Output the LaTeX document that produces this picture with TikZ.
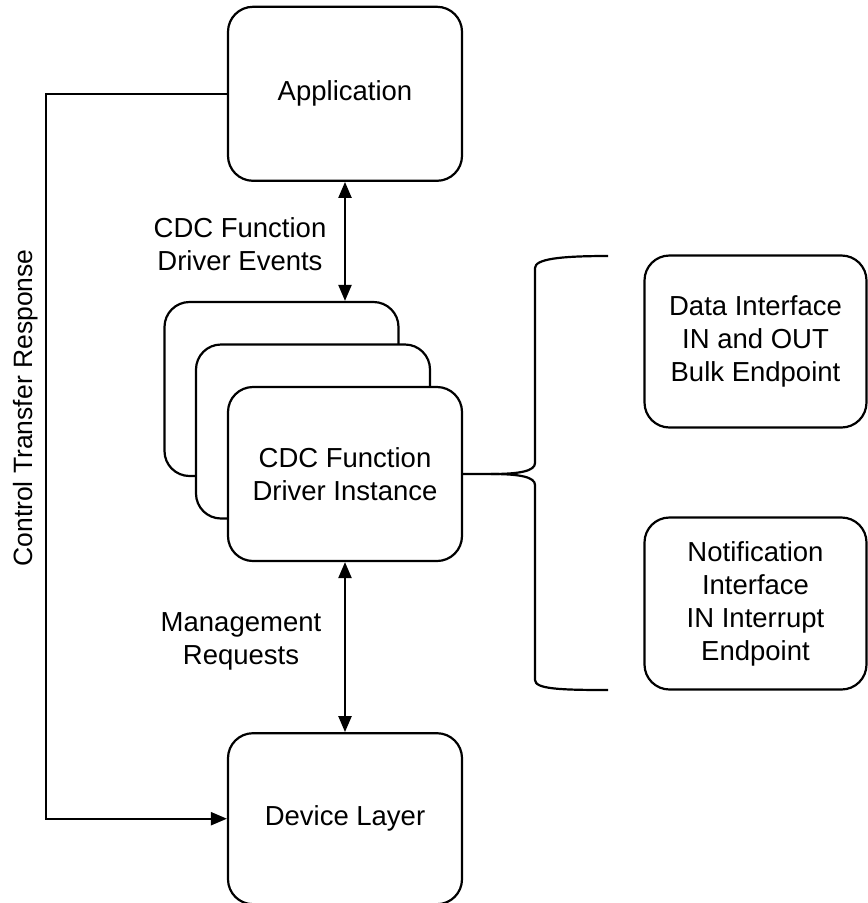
\documentclass[tikz,border=0pt]{standalone}
\usepackage{fontspec}
\setmainfont{Liberation Sans}
\usepackage{tikz}
\usetikzlibrary{positioning,arrows.meta}

\begin{document}
\begin{tikzpicture}[
  x=1pt, y=-1pt,
  line width=2.2pt,
  box/.style={draw, rounded corners=25pt, align=center, minimum width=234pt, minimum height=174pt, font=\fontsize{27.5}{33}\selectfont},
  lbl/.style={align=center, font=\fontsize{27.5}{33}\selectfont},
  arr/.style={-{Triangle[length=16pt,width=13pt]}},
  darr/.style={{Triangle[length=16pt,width=13pt]}-{Triangle[length=16pt,width=13pt]}}
]
\useasboundingbox (0,0) rectangle (868,903);

% stacked driver instances
\node[box, fill=white] (back) at (281.5,389) {};
\node[box, fill=white] (mid) at (313,431.5) {};
\node[box, fill=white] (front) at (345,474) {CDC Function\\Driver Instance};

\node[box, above=204pt of front] (app) {Application};
\node[box, below=170pt of front, minimum height=171pt] (dev) {Device Layer};

% endpoints
\node[box, minimum width=222pt, minimum height=172pt] (data) at (755.5,341.5) {Data Interface\\IN and OUT\\Bulk Endpoint};
\node[box, minimum width=222pt, minimum height=172pt] (notif) at (755.5,603.5) {Notification\\Interface\\IN Interrupt\\Endpoint};

\draw[darr] (app.south) -- (app.south |- back.north);
\draw[darr] (front.south) -- (dev.north);
\draw[arr] (app.west) -- ++(-181,0) |- (dev.west);

\node[lbl] (evt) at (240,244) {CDC Function\\Driver Events};
\node[lbl] (mgmt) at (241,641) {Management\\Requests};
\node[lbl, rotate=90, font=\fontsize{26.5}{32}\selectfont] (ctl) at (26,408) {Control Transfer Response};

% brace
\coordinate (brc) at ([xshift=28pt]front.east);
\draw (front.east) -- (brc) .. controls (520,474) and (535,471) .. (535,463) -- (535,268) .. controls (535,259) and (560,256) .. (608,256);
\draw (brc) .. controls (520,474) and (535,477) .. (535,485) -- (535,680) .. controls (535,689) and (560,690) .. (608,690);
\end{tikzpicture}
\end{document}
